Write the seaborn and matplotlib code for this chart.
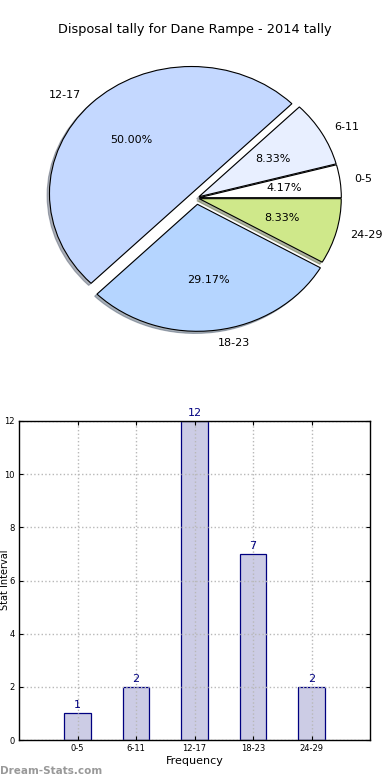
import matplotlib
matplotlib.use("Agg")
import matplotlib.pyplot as plt
import seaborn as sns
import pandas as pd

categories = ["0-5", "6-11", "12-17", "18-23", "24-29"]
counts = [1, 2, 12, 7, 2]
pie_colors = ["#ffffff", "#e8efff", "#c4d8ff", "#b5d5ff", "#cfe88a"]
explode = [0.02, 0.02, 0.05, 0.05, 0.02]
title = "Disposal tally for Dane Rampe - 2014 tally"
yticks = [0, 2, 4, 6, 8, 10, 12]

sns.set_style("white")
plt.rcParams['font.family'] = ['DejaVu Sans']
plt.rcParams['text.color'] = 'black'
plt.rcParams['xtick.color'] = 'black'
plt.rcParams['ytick.color'] = 'black'
plt.rcParams['axes.labelcolor'] = 'black'

fig = plt.figure(figsize=(3.9, 7.8), dpi=100)

# ---- pie ----
cx, cy = 196.5, 198.0
rx, ry = 142.0, 127.0
lim = 1.3
axp = fig.add_axes([(cx - lim * rx) / 390, (780 - cy - lim * ry) / 780,
                    2 * lim * rx / 390, 2 * lim * ry / 780])
axp.pie(counts, labels=categories, colors=pie_colors, explode=explode,
        autopct="%1.2f%%", startangle=0,
        shadow={'ox': -0.012, 'oy': -0.012, 'shade': 0.55},
        wedgeprops=dict(edgecolor="black", linewidth=0.8),
        textprops=dict(fontsize=8, color="black"))
axp.set_xlim(-lim, lim)
axp.set_ylim(-lim, lim)
axp.set_aspect("auto")
axp.axis("off")

fig.text(0.5, 1 - 30 / 780, title, ha="center", va="center", fontsize=9.3,
         color="black")

# ---- bars ----
axb = fig.add_axes([19 / 390, 40 / 780, 351 / 390, 319 / 780])
df = pd.DataFrame({"cat": categories, "val": counts})
sns.barplot(data=df, x="cat", y="val", ax=axb, width=0.45,
            color=(0, 0, 0.5, 0.2), edgecolor="#000080", linewidth=0.9,
            saturation=1)
for i, v in enumerate(counts):
    axb.text(i, v + 0.12, str(v), ha="center", va="bottom",
             fontsize=8, color="#000080")
axb.set_xlim(-1, 5)
axb.set_ylim(0, 12)
axb.set_yticks(yticks)
axb.set_xlabel("Frequency", fontsize=8, labelpad=2)
axb.set_ylabel("")
axb.tick_params(axis="both", labelsize=6, direction="in", length=3,
                top=True, right=True, bottom=True, left=True, pad=3)
axb.set_axisbelow(False)
axb.grid(True, linestyle=":", color="#b8b8b8", linewidth=1)
for s in axb.spines.values():
    s.set_visible(True)
    s.set_color("black")
    s.set_linewidth(1)
    s.set_zorder(5)

fig.text(10 / 390, 1 - 580 / 780, "Stat Interval", rotation=90,
         ha="right", va="center", fontsize=7)

fig.text(0.0, 1 - 771 / 780, "Dream-Stats.com", ha="left", va="center",
         fontsize=7.5, color="#999999", fontweight="bold")

fig.savefig("out.png", dpi=100)
